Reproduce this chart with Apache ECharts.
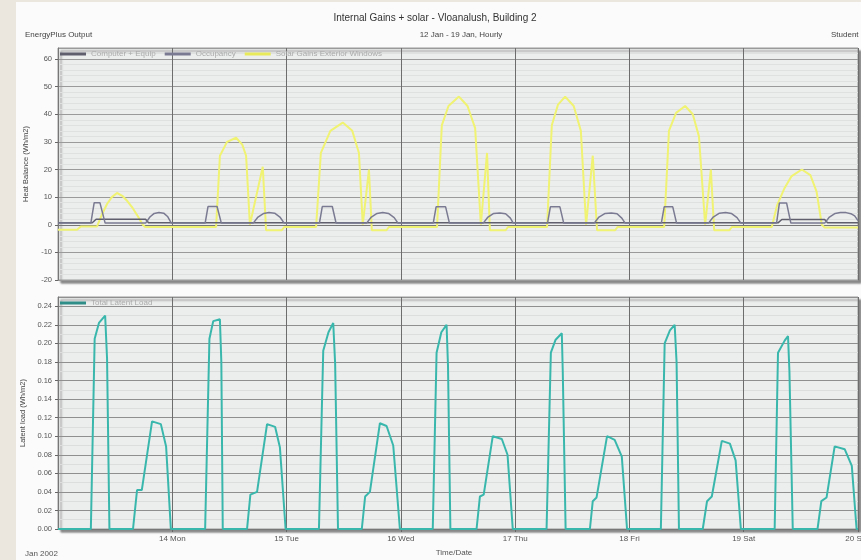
<!DOCTYPE html>
<html>
<head>
<meta charset="utf-8">
<script src="https://cdn.jsdelivr.net/npm/echarts@6/dist/echarts.min.js"></script>
<style>
  html, body { margin: 0; padding: 0; background: #ebe7df; }
  #chart { width: 861px; height: 560px; }
</style>
</head>
<body>
<div id="chart"></div>
<script>
// ---- Data (hour since 13 Jan 00:00, value) ----
const dayLabels = ['13 Sun', '14 Mon', '15 Tue', '16 Wed', '17 Thu', '18 Fri', '19 Sat', '20 Sun'];

const computerEquip = [
  [0, 0.7], [7.2, 0.7], [8.0, 2.0], [18.4, 2.0], [19.0, 0.7],
  [151.2, 0.7], [152.0, 1.9], [161.0, 1.9], [161.6, 0.7], [168, 0.7]
];

const occupancy = [
  [0, 0.6], [6.9, 0.6], [7.6, 8.0], [8.8, 8.0], [9.9, 0.6], [18.4, 0.6], [19.3, 2.8], [20.2, 4.1], [21.2, 4.4], [22.2, 4.2], [23.0, 3.0], [23.8, 0.6],
  [30.9, 0.6], [31.5, 6.6], [33.4, 6.6], [34.3, 0.6], [41.0, 0.6], [42.0, 2.8], [43.2, 4.1], [44.3, 4.4], [45.5, 4.2], [46.6, 2.8], [47.5, 0.6],
  [54.9, 0.6], [55.5, 6.6], [57.6, 6.6], [58.4, 0.6], [64.8, 0.6], [65.8, 2.8], [67.0, 4.1], [68.2, 4.4], [69.4, 4.1], [70.6, 2.6], [71.4, 0.6],
  [78.8, 0.6], [79.4, 6.5], [81.4, 6.5], [82.2, 0.6], [89.3, 0.6], [90.3, 2.8], [91.5, 4.1], [92.8, 4.3], [94.0, 4.0], [95.0, 2.4], [95.6, 0.6],
  [102.8, 0.6], [103.4, 6.5], [105.4, 6.5], [106.2, 0.6], [112.6, 0.6], [113.6, 2.8], [114.9, 4.1], [116.2, 4.3], [117.4, 4.0], [118.4, 2.4], [119.1, 0.6],
  [126.7, 0.6], [127.3, 6.5], [129.1, 6.5], [129.9, 0.6], [136.6, 0.6], [137.6, 2.8], [138.9, 4.2], [140.2, 4.4], [141.4, 4.1], [142.6, 2.6], [143.4, 0.6],
  [150.9, 0.6], [151.5, 7.9], [153.0, 7.9], [153.9, 0.6], [161.0, 0.6], [162.0, 2.8], [163.2, 4.1], [164.3, 4.4], [165.5, 4.4], [166.5, 4.0], [167.3, 3.2], [168, 1.5]
];

const solarGains = [
  [0, -1.8], [4.0, -1.8], [4.8, -0.6], [8.2, -0.6], [9.3, 4], [10.3, 7.5], [11.3, 10], [12.4, 11.5], [13.5, 10.5], [14.6, 8.5], [15.7, 6], [16.8, 3], [17.8, 0], [18.3, -0.8],
  [33.2, -0.8], [34.0, 25], [35.5, 30], [37.4, 31.5], [38.7, 29], [39.5, 25], [40.3, 0], [43.0, 21], [43.7, -2], [47.0, -2], [47.5, -0.8],
  [54.2, -0.8], [55.2, 26], [57.2, 34], [59.8, 37], [61.8, 34], [63.2, 26], [64.0, 0], [65.3, 20], [65.9, -2], [69.0, -2], [69.5, -0.8],
  [79.6, -0.8], [80.6, 36], [82.0, 43], [84.2, 46.4], [86.0, 43], [87.6, 35], [88.8, 0], [90.1, 26], [90.7, -2], [94.0, -2], [94.5, -0.8],
  [102.7, -0.8], [103.7, 36], [105.0, 43.5], [106.5, 46.4], [108.3, 43], [109.8, 34], [110.9, 0], [112.3, 25], [113.2, -2], [117.0, -2], [117.5, -0.8],
  [127.3, -0.8], [128.3, 34], [129.8, 40.5], [131.7, 43], [133.3, 40], [134.6, 32], [135.9, 0], [137.1, 20], [137.8, -2], [141.0, -2], [141.5, -0.8],
  [149.9, -0.8], [151.0, 7], [152.5, 13], [154.0, 17.5], [156.2, 20], [158.0, 18], [159.3, 12], [160.4, 0], [161.0, -1], [168, -1]
];

const latentLoad = [
  [0, 0], [6.9, 0], [7.7, 0.205], [8.6, 0.222], [9.9, 0.230], [10.3, 0.184], [10.8, 0], [15.75, 0], [16.6, 0.042], [17.6, 0.042], [19.75, 0.116], [21.6, 0.113], [22.7, 0.089], [23.7, 0],
  [30.9, 0], [31.8, 0.205], [32.6, 0.224], [34.0, 0.226], [34.3, 0.18], [34.6, 0], [39.7, 0], [40.4, 0.037], [41.8, 0.040], [43.9, 0.113], [45.6, 0.110], [46.6, 0.088], [47.8, 0],
  [54.8, 0], [55.7, 0.192], [56.8, 0.212], [57.8, 0.222], [58.2, 0.178], [58.8, 0], [63.8, 0], [64.5, 0.035], [65.5, 0.040], [67.6, 0.114], [69.0, 0.111], [70.4, 0.090], [71.8, 0],
  [78.7, 0], [79.5, 0.19], [80.5, 0.212], [81.6, 0.220], [81.9, 0.176], [82.4, 0], [87.9, 0], [88.6, 0.035], [89.4, 0.037], [91.3, 0.100], [93.2, 0.097], [94.4, 0.080], [95.5, 0],
  [102.6, 0], [103.5, 0.19], [104.5, 0.204], [105.8, 0.211], [106.0, 0.17], [106.6, 0], [111.7, 0], [112.3, 0.030], [113.1, 0.034], [115.3, 0.100], [116.9, 0.096], [118.4, 0.078], [119.5, 0],
  [126.6, 0], [127.4, 0.200], [128.5, 0.214], [129.5, 0.220], [129.9, 0.18], [130.4, 0], [135.4, 0], [136.3, 0.030], [137.3, 0.035], [139.4, 0.095], [141.1, 0.092], [142.3, 0.074], [143.4, 0],
  [150.5, 0], [151.2, 0.19], [152.6, 0.203], [153.3, 0.208], [153.6, 0.17], [154.3, 0], [159.5, 0], [160.3, 0.030], [161.4, 0.034], [163.1, 0.089], [165.2, 0.086], [166.7, 0.068], [167.7, 0], [168, 0]
];

// ---- Chart ----
const FONT = '"Liberation Sans", Arial, sans-serif';
const chart = echarts.init(document.getElementById('chart'), null, { renderer: 'canvas' });

const gridStyle = {
  show: true, backgroundColor: '#eceeed', borderColor: '#9a9a9a', borderWidth: 1,
  shadowColor: 'rgba(0,0,0,0.45)', shadowOffsetX: 3, shadowOffsetY: 3, shadowBlur: 2,
  containLabel: false, outerBoundsMode: 'none'
};

function xAxisCfg(gridIndex, showLabels) {
  return {
    type: 'value', gridIndex, min: 0, max: 168, interval: 24,
    axisLine: { show: true, lineStyle: { color: '#777', width: 1 } },
    axisTick: { show: showLabels, length: 3, lineStyle: { color: '#666' } },
    axisLabel: {
      show: showLabels, fontSize: 8, color: '#555', fontFamily: FONT, margin: 6,
      showMinLabel: false,
      formatter: v => dayLabels[Math.round(v / 24)]
    },
    splitLine: { show: true, lineStyle: { color: '#6d6d6d', width: 1 } }
  };
}

const option = {
  backgroundColor: '#fbfbfb',
  animation: false,
  textStyle: { fontFamily: FONT },
  title: [
    { text: 'Internal Gains + solar - Vloanalush, Building 2', left: 430, top: 8, textAlign: 'center',
      textStyle: { fontSize: 10, fontWeight: 'normal', color: '#333', fontFamily: FONT } },
    { text: '12 Jan - 19 Jan, Hourly', left: 456, top: 26, textAlign: 'center',
      textStyle: { fontSize: 8, fontWeight: 'normal', color: '#444', fontFamily: FONT } },
    { text: 'EnergyPlus Output', left: 20, top: 26,
      textStyle: { fontSize: 8, fontWeight: 'normal', color: '#444', fontFamily: FONT } },
    { text: 'Student', left: 826, top: 26,
      textStyle: { fontSize: 8, fontWeight: 'normal', color: '#444', fontFamily: FONT } },
    { text: 'Jan 2002', left: 20, top: 545,
      textStyle: { fontSize: 8, fontWeight: 'normal', color: '#555', fontFamily: FONT } },
    { text: 'Time/Date', left: 449, top: 544, textAlign: 'center',
      textStyle: { fontSize: 8, fontWeight: 'normal', color: '#555', fontFamily: FONT } }
  ],
  graphic: [
    { type: 'rect', left: 0, top: 0, shape: { width: 16, height: 560 }, style: { fill: '#ebe7df' }, silent: true },
    { type: 'rect', left: 0, top: 0, shape: { width: 861, height: 2 }, style: { fill: '#ebe7df' }, silent: true }
  ],
  legend: [
    { left: 60, top: 50, itemWidth: 26, itemHeight: 3, itemGap: 9, icon: 'rect', padding: 0,
      textStyle: { fontSize: 8, color: '#aaa', fontFamily: FONT },
      data: ['Computer + Equip', 'Occupancy', 'Solar Gains Exterior Windows'] },
    { left: 60, top: 299, itemWidth: 26, itemHeight: 3, itemGap: 9, icon: 'rect', padding: 0,
      textStyle: { fontSize: 8, color: '#aaa', fontFamily: FONT },
      data: ['Total Latent Load'] }
  ],
  grid: [
    Object.assign({ left: 58, right: 3, top: 48, bottom: 280 }, gridStyle),
    Object.assign({ left: 58, right: 3, top: 297, bottom: 31 }, gridStyle)
  ],
  xAxis: [xAxisCfg(0, false), xAxisCfg(1, true)],
  yAxis: [
    {
      type: 'value', gridIndex: 0, min: -20, max: 64, interval: 10,
      name: 'Heat Balance (Wh/m2)', nameLocation: 'middle', nameGap: 27, nameRotate: 90,
      nameTextStyle: { fontSize: 7.5, color: '#444', fontFamily: FONT },
      axisLine: { show: true, lineStyle: { color: '#777' } },
      axisTick: { show: true, length: 3, lineStyle: { color: '#666' } },
      axisLabel: { fontSize: 7.5, color: '#555', fontFamily: FONT, margin: 6, showMaxLabel: false },
      splitLine: { show: true, lineStyle: { color: '#9a9a9a', width: 1 } },
      minorTick: { show: false, splitNumber: 5 },
      minorSplitLine: { show: true, lineStyle: { color: '#dfe1e0', width: 1 } }
    },
    {
      type: 'value', gridIndex: 1, min: 0, max: 0.25, interval: 0.02,
      name: 'Latent load (Wh/m2)', nameLocation: 'middle', nameGap: 27, nameRotate: 90,
      nameTextStyle: { fontSize: 7.5, color: '#444', fontFamily: FONT },
      axisLine: { show: true, lineStyle: { color: '#777' } },
      axisTick: { show: true, length: 3, lineStyle: { color: '#666' } },
      axisLabel: { fontSize: 7.5, color: '#555', fontFamily: FONT, margin: 6, showMaxLabel: false,
        formatter: v => v.toFixed(2) },
      splitLine: { show: true, lineStyle: { color: '#8f8f8f', width: 1 } },
      minorTick: { show: false, splitNumber: 2 },
      minorSplitLine: { show: true, lineStyle: { color: '#dcdedd', width: 1 } }
    }
  ],
  series: [
    { name: 'Computer + Equip', type: 'line', xAxisIndex: 0, yAxisIndex: 0, data: computerEquip,
      showSymbol: false, lineStyle: { color: '#5f5f6e', width: 1.5 }, itemStyle: { color: '#5f5f6e' }, z: 3 },
    { name: 'Occupancy', type: 'line', xAxisIndex: 0, yAxisIndex: 0, data: occupancy,
      showSymbol: false, lineStyle: { color: '#7a7a92', width: 1.5 }, itemStyle: { color: '#7a7a92' }, z: 4 },
    { name: 'Solar Gains Exterior Windows', type: 'line', xAxisIndex: 0, yAxisIndex: 0, data: solarGains,
      showSymbol: false, lineStyle: { color: '#f0f272', width: 2 }, itemStyle: { color: '#e8ea5a' }, z: 2 },
    { name: 'Total Latent Load', type: 'line', xAxisIndex: 1, yAxisIndex: 1, data: latentLoad,
      showSymbol: false, lineStyle: { color: '#3ab7ad', width: 2 }, itemStyle: { color: '#2f8f88' }, z: 2 }
  ]
};
chart.setOption(option);
</script>
</body>
</html>
